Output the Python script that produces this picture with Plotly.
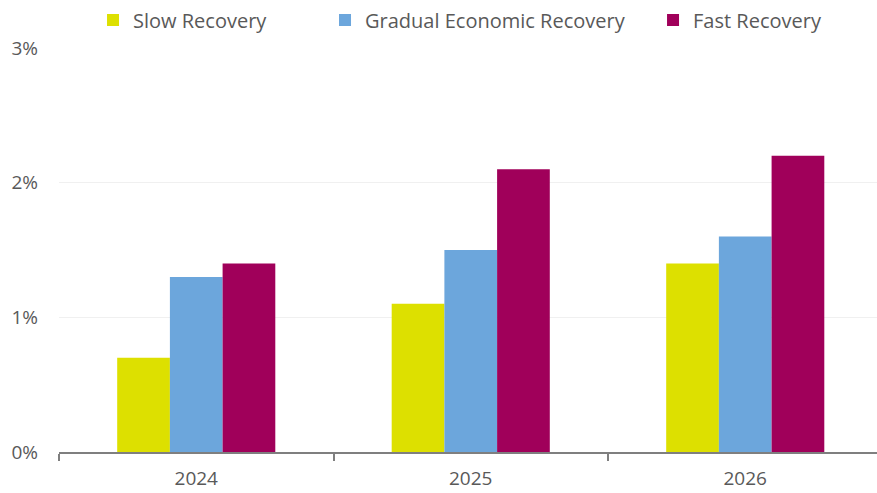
import plotly.graph_objects as go

years = ["2024", "2025", "2026"]
slow = [0.7, 1.1, 1.4]
gradual = [1.3, 1.5, 1.6]
fast = [1.4, 2.1, 2.2]

series_names = ["Slow Recovery", "Gradual Economic Recovery", "Fast Recovery"]
series_colors = ["#DDE000", "#6CA6DC", "#A0005A"]
y_ticks = [0, 1, 2, 3]
y_tick_labels = ["0%", "1%", "2%", "3%"]

FONT = "Open Sans"
GREY = "#595959"

# one legend box per series so each entry sits at its own spot in the header row
legend_ids = ["legend", "legend2", "legend3"]
legend_x = [0.0416, 0.3252, 0.7262]

fig = go.Figure()
for name, vals, color, lid in zip(series_names, [slow, gradual, fast], series_colors, legend_ids):
    fig.add_trace(go.Bar(
        x=years, y=vals, name=name, legend=lid, showlegend=True,
        marker=dict(color=color, line=dict(width=0)),
    ))

legend_style = dict(
    orientation="h", xanchor="left", y=1.069, yanchor="middle",
    font=dict(family=FONT, size=20, color=GREY),
    itemwidth=30, borderwidth=0, bgcolor="rgba(0,0,0,0)",
)

fig.update_layout(
    width=877, height=493,
    margin=dict(l=59, r=0, t=48, b=41, autoexpand=False),
    paper_bgcolor="white", plot_bgcolor="white",
    showlegend=True,
    barmode="group", bargap=0.424, bargroupgap=0,
    font=dict(family=FONT, size=19, color=GREY),
    legend=dict(x=legend_x[0], **legend_style),
    legend2=dict(x=legend_x[1], **legend_style),
    legend3=dict(x=legend_x[2], **legend_style),
    xaxis=dict(
        range=[-0.5, 2.48], automargin=False,
        showline=True, linecolor="#7f7f7f", linewidth=1.5,
        ticks="outside", tickson="boundaries", ticklen=7, tickwidth=1.5, tickcolor="#7f7f7f",
        ticklabelstandoff=8,
        tickfont=dict(family=FONT, size=19, color=GREY),
        showgrid=False, zeroline=False,
    ),
    yaxis=dict(
        range=[0, 3], tickvals=y_ticks, ticktext=y_tick_labels, automargin=False,
        showgrid=True, gridcolor="#f0f0f0", gridwidth=1,
        zeroline=False, showline=False, ticks="",
        ticklabelstandoff=20,
        tickfont=dict(family=FONT, size=19, color=GREY),
    ),
)

fig.write_html("out.html")
